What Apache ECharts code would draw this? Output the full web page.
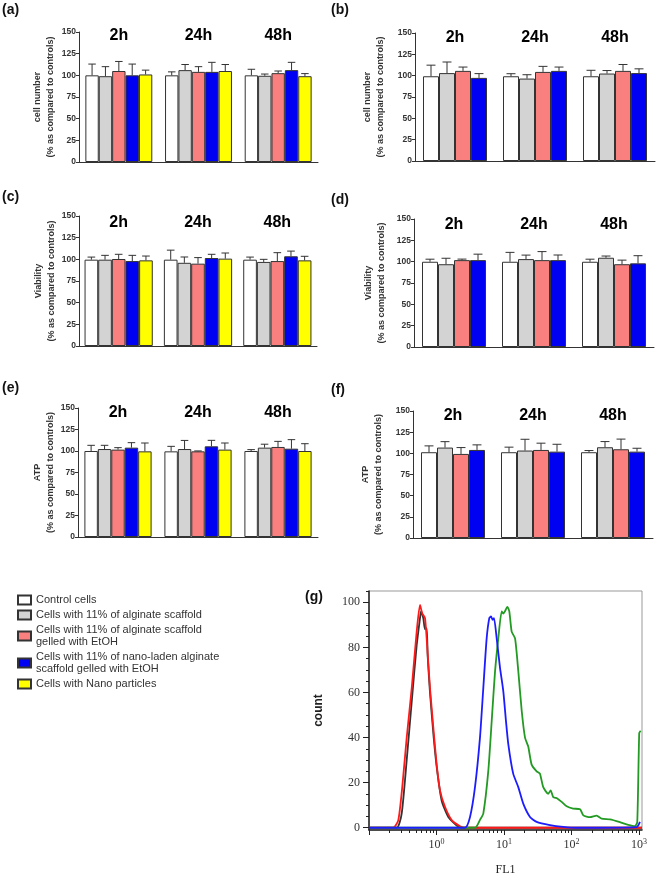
<!DOCTYPE html>
<html>
<head>
<meta charset="utf-8">
<script src="https://cdn.jsdelivr.net/npm/echarts@6/dist/echarts.min.js"></script>
<style>
  html, body { margin: 0; padding: 0; background: #fff; }
  #main { width: 658px; height: 877px; }
</style>
</head>
<body>
<div id="main"></div>
<script>
// ---- data ----
const timePoints = ['2h', '24h', '48h'];
const groupNames = [
  'Control cells',
  'Cells with 11% of alginate scaffold',
  'Cells with 11% of alginate scaffold\ngelled with EtOH',
  'Cells with 11% of nano-laden alginate\nscaffold gelled with EtOH',
  'Cells with Nano particles'
];

// one row per group, one value per time point
const cellMeanA = [[100, 100, 100], [99, 106, 99.5], [105, 104, 102.5], [100, 104, 106], [101, 105, 99]];
const cellErrA = [[13, 4, 7], [11, 6.5, 2], [11, 6, 2.5], [13, 11, 9], [5, 7.5, 3]];
const cellMeanB = [[99.3, 99.3, 99.3], [103, 96.6, 102.5], [105.6, 104.4, 105.6], [97.4, 105.6, 103]];
const cellErrB = [[13, 3, 7], [13, 4.5, 3.5], [4.5, 6.5, 7.5], [5, 4.5, 5]];
const viabMeanC = [[99.6, 99.6, 99.6], [99.6, 96, 97], [100.4, 95, 98], [98, 101.5, 103.5], [98.8, 100.8, 98.8]];
const viabErrC = [[3, 11, 3], [5, 6.7, 3], [5.4, 7, 9.7], [6.6, 4.3, 6], [5, 6.5, 4.7]];
const viabMeanD = [[99.9, 99.9, 99.9], [97, 103, 104.6], [101.8, 101.8, 97], [101.8, 101.8, 98]];
const viabErrD = [[3, 11, 3], [7, 4.7, 2], [1.2, 10, 4.8], [7, 6, 9]];
const atpMeanE = [[100, 99.6, 100], [102.3, 102.3, 103.9], [101.6, 99.6, 104.7], [103.9, 105.4, 102.7], [99.6, 101.6, 100]];
const atpErrE = [[6.6, 5.8, 1.6], [4.3, 10, 4], [2.3, 0.5, 6.5], [5.8, 7, 10.5], [9.7, 7.7, 8.5]];
const atpMeanF = [[101.3, 101.3, 101.3], [106.8, 103.3, 107.2], [99.3, 104, 104.8], [104, 102, 102]];
const atpErrF = [[7.5, 6, 2], [7, 13.3, 6.7], [7.5, 8, 12], [6, 8.7, 4]];

const barTicks = [0, 25, 50, 75, 100, 125, 150];

// flow cytometry histogram (g): [FL1, count]
const histControl = [[0.1, 0], [0.257, 0], [0.305, 6.3], [0.362, 30], [0.43, 56], [0.509, 81], [0.57, 93], [0.589, 96],
  [0.637, 93], [0.676, 88], [0.716, 88.5], [0.741, 76], [0.801, 60], [0.897, 42], [1.007, 27], [1.194, 12],
  [1.496, 4.8], [2.1, 0.4], [2.5, 0], [1110, 0]];
const histRed = [[0.1, 0], [0.229, 0], [0.272, 3.4], [0.311, 18], [0.362, 40], [0.43, 62], [0.509, 87], [0.57, 98.8],
  [0.616, 95], [0.676, 93], [0.741, 77], [0.801, 62], [0.897, 44.5], [1.007, 28], [1.127, 16.6], [1.336, 9.3],
  [1.68, 3.4], [2.23, 0.7], [2.64, 0], [1110, 0]];
const histGreen = [[0.1, 0], [3.72, 0], [4.41, 3.5], [4.94, 6.3], [5.85, 25], [6.57, 47], [7.36, 69], [8.24, 84],
  [9.25, 96], [9.77, 95], [10.35, 96], [11.2, 98], [12.0, 96], [13.0, 87], [14.6, 84], [16.3, 69.5], [18.3, 52],
  [20.5, 40], [22.9, 36], [25.7, 28], [30.5, 25], [34.1, 24], [38.2, 18], [45.3, 15], [49.2, 16.6], [53.7, 13.6],
  [61.6, 13], [71.6, 11.5], [84.9, 9.5], [106, 8.5], [134, 8.2], [150, 5.5], [188, 4.7], [236, 5.4], [280, 4],
  [372, 3.7], [523, 2.5], [694, 1.3], [873, 0.7], [944, 2.5], [1010, 42], [1060, 43]];
const histBlue = [[0.1, 0], [2.64, 0], [3.14, 4.8], [3.72, 18], [4.41, 40], [4.94, 62], [5.54, 84], [6.06, 93],
  [6.42, 93.7], [6.8, 92.2], [7.11, 93], [7.8, 84], [8.73, 71], [9.77, 60.6], [10.7, 47.4], [11.6, 37], [13.7, 24],
  [16.3, 18], [19.3, 10.7], [24.3, 4.8], [30.5, 2.6], [48, 1.2], [75.6, 0.4], [119, 0], [925, 0.3], [1035, 2.6]];
const countTicks = [0, 20, 40, 60, 80, 100];
const countMinorTicks = [5, 10, 15, 25, 30, 35, 45, 50, 55, 65, 70, 75, 85, 90, 95, 105];
const fl1MinorTicks = [0.2, 0.3, 0.4, 0.5, 0.6, 0.7, 0.8, 0.9, 2, 3, 4, 5, 6, 7, 8, 9,
  20, 30, 40, 50, 60, 70, 80, 90, 200, 300, 400, 500, 600, 700, 800, 900];

// ---- styles / layout ----
const groupColors = ['#ffffff', '#d3d3d3', '#fa8080', '#0000f2', '#ffff00'];
const sans = 'Liberation Sans, Arial, sans-serif';
const serif = 'Liberation Serif, Times New Roman, serif';

const panels = [
  { letter: '(a)', lx: 2, ly: 3, grid: { left: 79, top: 32, width: 239, height: 130 }, gap: 0.16, nameGap: 22,
    name: 'cell number\n(% as compared to controls)', labelY: 146, mean: cellMeanA, err: cellErrA },
  { letter: '(b)', lx: 331, ly: 3, grid: { left: 415, top: 33, width: 240, height: 128 }, gap: 0.2, nameGap: 28,
    name: 'cell number\n(% as compared to controls)', labelY: 145, mean: cellMeanB, err: cellErrB },
  { letter: '(c)', lx: 2, ly: 190, grid: { left: 79, top: 216, width: 238, height: 130 }, gap: 0.14, nameGap: 21,
    name: 'Viability\n(% as compared to controls)', labelY: 142, mean: viabMeanC, err: viabErrC },
  { letter: '(d)', lx: 331, ly: 193, grid: { left: 414, top: 219, width: 240, height: 128 }, gap: 0.2, nameGap: 26,
    name: 'Viability\n(% as compared to controls)', labelY: 143, mean: viabMeanD, err: viabErrD },
  { letter: '(e)', lx: 2, ly: 381, grid: { left: 78, top: 408, width: 240, height: 129 }, gap: 0.16, nameGap: 21,
    name: 'ATP\n(% as compared to controls)', labelY: 145, mean: atpMeanE, err: atpErrE },
  { letter: '(f)', lx: 331, ly: 383, grid: { left: 413, top: 411, width: 240, height: 127 }, gap: 0.2, nameGap: 28,
    name: 'ATP\n(% as compared to controls)', labelY: 145, mean: atpMeanF, err: atpErrF }
];

function errorBars(nGroups, gapFrac) {
  return function (params, api) {
    const cat = api.value(0), g = api.value(1), mean = api.value(2), err = api.value(3);
    const band = api.size([1, 0])[0];
    const groupW = band * (1 - gapFrac);
    const bw = groupW / nGroups;
    const base = api.coord([cat, mean]);
    const top = api.coord([cat, mean + err]);
    const x = base[0] - groupW / 2 + bw * (g + 0.5);
    const cap = bw * 0.28;
    const st = { stroke: '#333', lineWidth: 1 };
    return {
      type: 'group',
      children: [
        { type: 'line', shape: { x1: x, y1: base[1], x2: x, y2: top[1] }, style: st },
        { type: 'line', shape: { x1: x - cap, y1: top[1], x2: x + cap, y2: top[1] }, style: st }
      ]
    };
  };
}

function timeLabel(params, api) {
  const pt = api.coord([api.value(0), api.value(1)]);
  return {
    type: 'text', x: pt[0], y: pt[1],
    style: { text: timePoints[params.dataIndex], fill: '#000', align: 'center', verticalAlign: 'middle',
      font: 'bold 16px ' + sans }
  };
}

const grids = [], xAxes = [], yAxes = [], series = [], titles = [];

panels.forEach((p, i) => {
  grids.push(p.grid);
  titles.push({ text: p.letter, left: p.lx, top: p.ly, padding: 0,
    textStyle: { fontFamily: sans, fontSize: 14, fontWeight: 'bold', color: '#111' } });
  xAxes.push({
    type: 'category', gridIndex: i, data: timePoints,
    axisLine: { lineStyle: { color: '#333', width: 1 } },
    axisTick: { show: false }, axisLabel: { show: false }
  });
  yAxes.push({
    type: 'value', gridIndex: i, min: 0, max: 150, interval: 25,
    name: p.name, nameLocation: 'middle', nameGap: p.nameGap,
    nameTextStyle: { fontFamily: sans, fontSize: 9, fontWeight: 'bold', color: '#333', lineHeight: 13 },
    axisLine: { show: true, lineStyle: { color: '#333', width: 1 } },
    axisTick: { show: true, length: 3, lineStyle: { color: '#333' } },
    axisLabel: { fontFamily: sans, fontSize: 8.5, fontWeight: 'bold', color: '#333', margin: 3,
      customValues: barTicks },
    splitLine: { show: false }
  });
  const n = p.mean.length;
  p.mean.forEach((vals, g) => {
    series.push({
      type: 'bar', name: groupNames[g], xAxisIndex: i, yAxisIndex: i,
      data: vals, barGap: '0%', barCategoryGap: (p.gap * 100) + '%',
      itemStyle: { color: groupColors[g], borderColor: '#333', borderWidth: 1 },
      emphasis: { disabled: true }
    });
  });
  const errData = [];
  p.mean.forEach((vals, g) => vals.forEach((v, t) => errData.push([t, g, v, p.err[g][t]])));
  series.push({
    type: 'custom', xAxisIndex: i, yAxisIndex: i, data: errData,
    encode: { x: 0, y: 2 }, renderItem: errorBars(n, p.gap), z: 5, silent: true
  });
  series.push({
    type: 'custom', xAxisIndex: i, yAxisIndex: i, z: 6, silent: true,
    data: timePoints.map((t, k) => [k, p.labelY]),
    encode: { x: 0, y: 1 }, renderItem: timeLabel
  });
});

// panel (g)
const gi = panels.length;
grids.push({ left: 369, top: 591, width: 273, height: 240, show: true, borderColor: '#999', borderWidth: 1 });
titles.push({ text: '(g)', left: 305, top: 590, padding: 0,
  textStyle: { fontFamily: sans, fontSize: 14, fontWeight: 'bold', color: '#111' } });
xAxes.push({
  type: 'log', logBase: 10, gridIndex: gi, min: 0.1, max: 1110, position: 'bottom',
  name: 'FL1', nameLocation: 'middle', nameGap: 34,
  nameTextStyle: { fontFamily: serif, fontSize: 12, color: '#222' },
  axisLine: { onZero: false, lineStyle: { color: '#222', width: 1.5 } },
  axisTick: { length: 5, lineStyle: { color: '#222' } },
  axisLabel: {
    fontFamily: serif, fontSize: 12, color: '#333', margin: 8,
    formatter: v => { const e = Math.round(Math.log10(v)); return e < 0 ? '' : '10{s|' + e + '}'; },
    rich: { s: { fontFamily: serif, fontSize: 8, color: '#333', verticalAlign: 'top', padding: [0, 0, 6, 0] } }
  },
  splitLine: { show: false }
});
xAxes.push({
  type: 'log', logBase: 10, gridIndex: gi, min: 0.1, max: 1110, position: 'bottom',
  axisLine: { show: false, onZero: false },
  axisTick: { show: true, length: 3, customValues: fl1MinorTicks, lineStyle: { color: '#222' } },
  axisLabel: { show: false }, splitLine: { show: false }
});
yAxes.push({
  type: 'value', gridIndex: gi, min: -1, max: 105, position: 'left',
  name: 'count', nameLocation: 'middle', nameGap: 44,
  nameTextStyle: { fontFamily: sans, fontSize: 12, fontWeight: 'bold', color: '#222' },
  axisLine: { show: true, onZero: false, lineStyle: { color: '#222', width: 1.5 } },
  axisTick: { show: true, length: 6, customValues: countTicks, lineStyle: { color: '#222' } },
  axisLabel: { fontFamily: serif, fontSize: 12, color: '#333', margin: 9, customValues: countTicks },
  splitLine: { show: false }
});
yAxes.push({
  type: 'value', gridIndex: gi, min: -1, max: 105, position: 'left',
  axisLine: { show: false, onZero: false },
  axisTick: { show: true, length: 3, customValues: countMinorTicks, lineStyle: { color: '#222' } },
  axisLabel: { show: false }, splitLine: { show: false }
});
[[histControl, '#333333'], [histRed, '#ff1a1a'], [histGreen, '#239a23'], [histBlue, '#1c1cff']].forEach(([d, c]) => {
  series.push({
    type: 'line', xAxisIndex: gi, yAxisIndex: gi, data: d, showSymbol: false, symbol: 'none',
    smooth: 0.2, lineStyle: { color: c, width: 1.8 }, silent: true
  });
});

const chart = echarts.init(document.getElementById('main'), null, { renderer: 'canvas' });
chart.setOption({
  animation: false,
  backgroundColor: '#fff',
  title: titles,
  legend: {
    orient: 'vertical', left: 12, top: 589, itemWidth: 13, itemHeight: 9, itemGap: 3,
    icon: 'rect', selectedMode: false, data: groupNames,
    textStyle: { fontFamily: sans, fontSize: 11, lineHeight: 12, color: '#333' }
  },
  grid: grids,
  xAxis: xAxes,
  yAxis: yAxes,
  series: series
});
</script>
</body>
</html>
